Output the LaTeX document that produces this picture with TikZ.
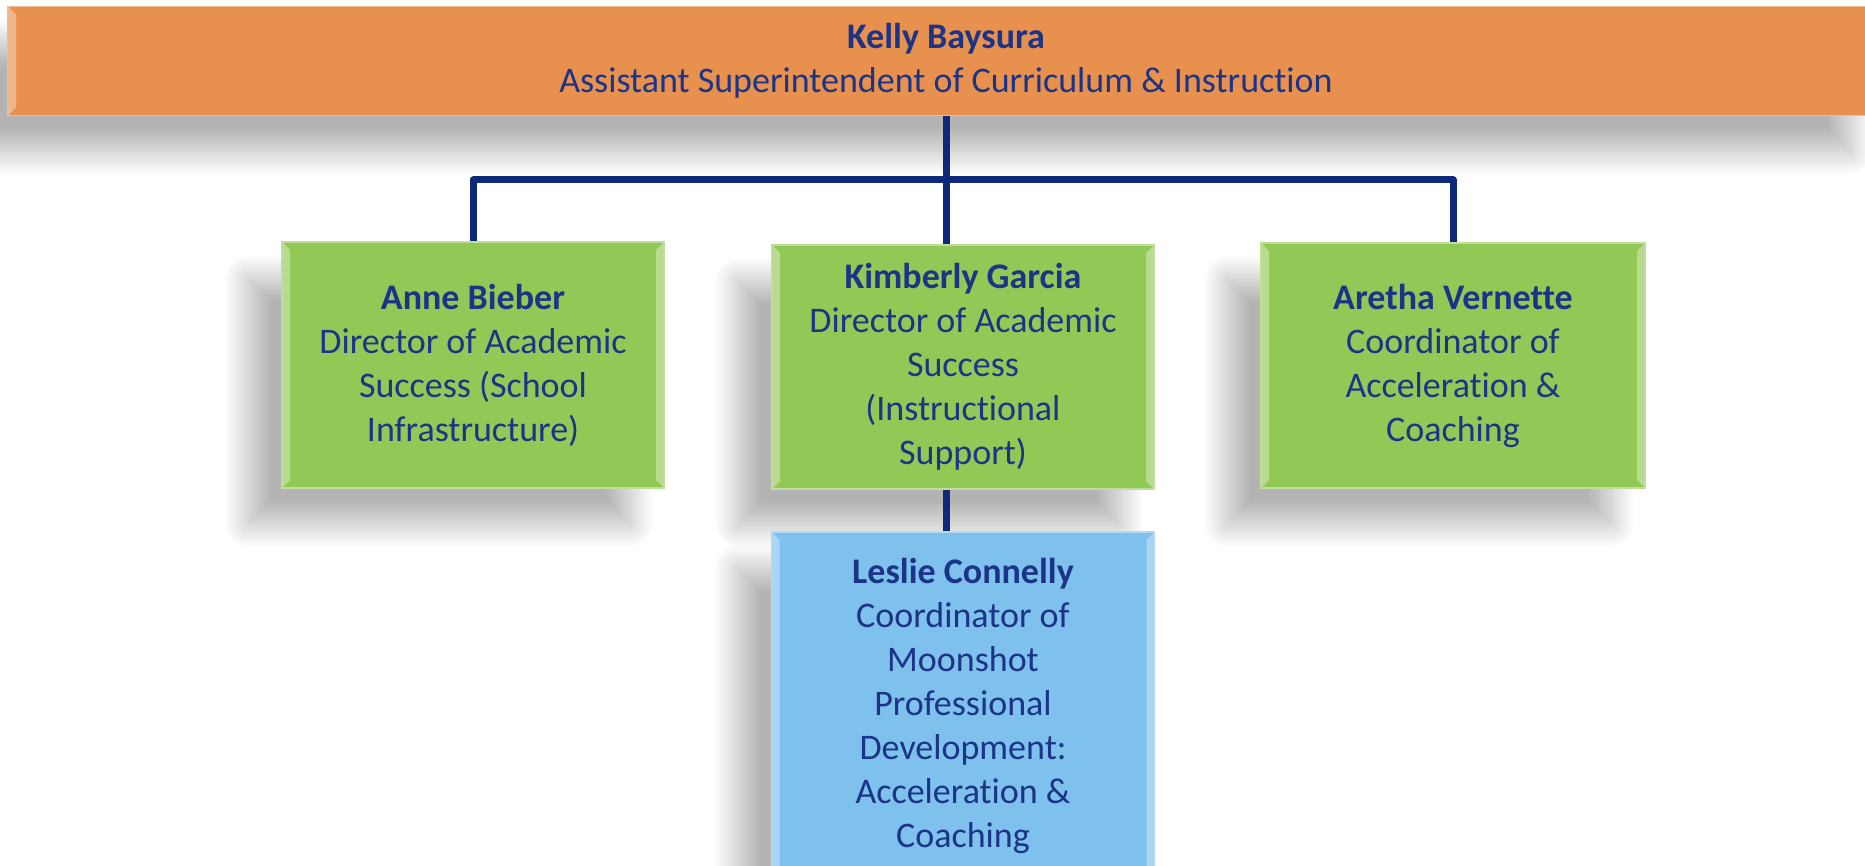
\documentclass[tikz,border=0pt]{standalone}
\usepackage{fontspec}
\setmainfont[RawFeature={-liga;-clig;-calt}]{Carlito}
\usetikzlibrary{positioning,calc,shadows.blur}

\definecolor{bossfill}{RGB}{232,144,78}
\definecolor{dirfill}{RGB}{146,200,85}
\definecolor{coordfill}{RGB}{125,193,236}
\definecolor{txtblue}{RGB}{28,52,135}
\definecolor{linenavy}{RGB}{14,40,122}

\begin{document}
\begin{tikzpicture}[x=0.5pt,y=-0.5pt,
    bevel/.style={path picture={
      \fill[white,opacity=.35] (path picture bounding box.north west) -- ++(4pt,-4pt)
        -- ([shift={(4pt,4pt)}]path picture bounding box.south west) -- (path picture bounding box.south west) -- cycle;
      \fill[white,opacity=.35] (path picture bounding box.north east) -- ++(-4pt,-4pt)
        -- ([shift={(-4pt,4pt)}]path picture bounding box.south east) -- (path picture bounding box.south east) -- cycle;}},
    orgnode/.style={rectangle,draw=#1!60!white,fill=#1,line width=0.7pt,align=center,
      text=txtblue,font=\fontsize{18}{22}\selectfont,inner sep=0pt,bevel,
      blur shadow={shadow xshift=-17pt,shadow yshift=-18pt,shadow blur radius=12pt,
        shadow blur steps=30,shadow opacity=30}},
    link/.style={draw=linenavy,line width=3.5pt,line join=round}]
    \clip (0,0) rectangle (1865,866);

    \node[orgnode=bossfill,minimum width=938pt,minimum height=54.5pt] (boss) at (946,61)
      {\textbf{Kelly Baysura}\\Assistant Superintendent of Curriculum \& Instruction};

    \node[orgnode=dirfill,minimum width=191pt,minimum height=123pt] (anne) at (473,365)
      {\textbf{Anne Bieber}\\Director of Academic\\Success (School\\Infrastructure)};
    \node[orgnode=dirfill,minimum width=191pt,minimum height=122pt] (kim) at (963,367)
      {\textbf{Kimberly Garcia}\\Director of Academic\\Success\\(Instructional\\Support)};
    \node[orgnode=dirfill,minimum width=192pt,minimum height=122.5pt] (aretha) at (1453,365.5)
      {\textbf{Aretha Vernette}\\Coordinator of\\Acceleration \&\\Coaching};

    \node[orgnode=coordfill,minimum width=191.5pt,minimum height=174pt] (leslie) at (963,706)
      {\textbf{Leslie Connelly}\\Coordinator of\\Moonshot\\Professional\\Development:\\Acceleration \&\\Coaching};

    \coordinate (bus) at (946,180);

    % reporting lines
    \path[link] (boss.south) -- (boss.south |- kim.north);
    \path[link] (anne.north) -- (anne.north |- bus) -- (aretha.north |- bus) -- (aretha.north);
    \path[link] (boss.south |- kim.south) -- (boss.south |- leslie.north);
\end{tikzpicture}
\end{document}
